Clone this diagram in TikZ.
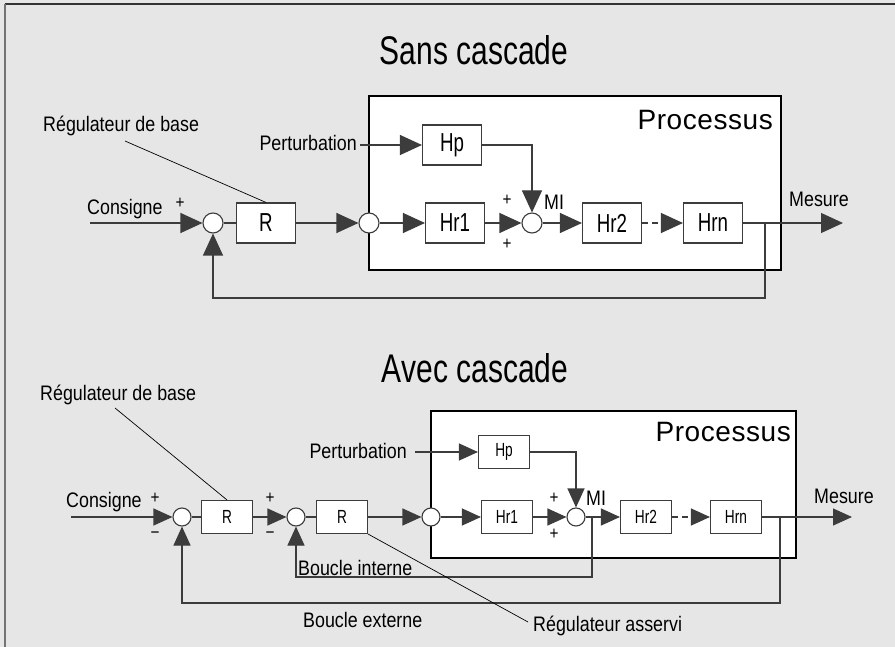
\documentclass[tikz,border=0pt]{standalone}
\usepackage{fontspec}
\setmainfont{Liberation Sans}[FakeStretch=0.85]
\newfontfamily\titlefont{Liberation Sans}[FakeStretch=0.75]
\newfontfamily\blkfont{Liberation Sans}[FakeStretch=0.72]
\newfontfamily\procfont{Liberation Sans}[LetterSpace=2]
\usepackage{tikz}
\usetikzlibrary{arrows.meta,positioning,calc}
\definecolor{cBg}{HTML}{E6E6E6}
\definecolor{cLine}{HTML}{3C3C3C}
\tikzset{
  blk/.style={draw=cLine, line width=1.1pt, fill=white, minimum width=59pt,
              minimum height=40pt, inner sep=0pt, font=\blkfont\fontsize{26}{28}\selectfont},
  sblk/.style={blk, minimum width=51pt, minimum height=33pt, font=\blkfont\fontsize{19}{21}\selectfont},
  sumnode/.style={circle, draw=cLine, line width=1.1pt, fill=white, minimum size=20pt, inner sep=0pt},
  ssum/.style={sumnode, minimum size=18pt},
  lbl/.style={inner sep=0pt, font=\fontsize{21}{24}\selectfont},
  sig/.style={inner sep=0pt, font=\fontsize{18}{20}\selectfont},
  ttl/.style={inner sep=0pt, font=\titlefont\fontsize{40}{44}\selectfont},
  proctxt/.style={inner sep=0pt, font=\procfont\fontsize{28}{32}\selectfont},
  wire/.style={line width=1.1pt, draw=cLine},
  flow/.style={wire, -{Triangle[length=22pt,width=20pt]}},
  sflow/.style={wire, -{Triangle[length=19pt,width=17pt]}},
  lead/.style={line width=0.7pt, draw=black},
  frame/.style={draw=black, line width=1.1pt, fill=white},
}

\begin{document}
\begin{tikzpicture}[x=1pt,y=-1pt]
  \useasboundingbox (0,0) rectangle (895,647);
  \fill[cBg] (0,0) rectangle (895,647);
  \draw[black!80, line width=1.2pt] (5,4) -- (895,4);
  \draw[black!55, line width=2pt] (5,4) -- (5,647);

  % --- sans cascade
  \node[ttl, anchor=base] (t1) at (474,65) {Sans cascade};
  \draw[frame] (369,96) rectangle (781,270);
  \node[proctxt, anchor=base east] (pr1) at (773,130) {Processus};
  \node[sumnode] (s11) at (213,223) {};
  \node[blk] (r1) at (266,223) {R};
  \node[sumnode] (s12) at (369,223) {};
  \node[blk] (hp1) at (452,145) {Hp};
  \node[blk] (ha1) at (455,223) {Hr1};
  \node[sumnode] (s13) at (532,223) {};
  \node[blk] (hb1) at (612,223) {Hr2};
  \node[blk] (hn1) at (713,223) {Hrn};
  \node[lbl, anchor=base west] (cons1) at (87,215) {Consigne};
  \node[lbl, anchor=base west] (reg1) at (43,132) {Régulateur de base};
  \node[lbl, anchor=base east] (pert1) at (357,151) {Perturbation};
  \node[lbl, anchor=base west] (mes1) at (789,207) {Mesure};
  \node[lbl, anchor=base west] (mi1) at (544,210) {MI};
  \node[sig] (p11) at (180,203) {+};
  \node[sig] (p12) at (507,200) {+};
  \node[sig] (p13) at (507,244) {+};
  \coordinate (in1) at (90,223);
  \coordinate (out1) at (843,223);
  \coordinate (br1) at (765,223);
  \coordinate (fb1) at (765,298);
  \coordinate (rl1) at (125,141);

  \draw[flow] (in1) -- (s11);
  \draw[wire] (s11) -- (r1);
  \draw[flow] (r1) -- (s12);
  \draw[flow] (s12) -- (ha1);
  \draw[flow] (ha1) -- (s13);
  \draw[flow] (s13) -- (hb1);
  \draw[flow, dash pattern=on 6pt off 4pt] (hb1) -- (hn1);
  \draw[flow] (hn1) -- (out1);
  \draw[flow] ([xshift=3pt]pert1.east |- hp1.west) -- (hp1.west);
  \draw[flow] (hp1.east) -| (s13.north);
  \draw[flow] (br1) -- (fb1) -| (s11.south);
  \draw[lead] (rl1) -- (r1.north);

  % --- avec cascade
  \node[ttl, anchor=base] (t2) at (475,382) {Avec cascade};
  \draw[frame] (431,411) rectangle (796,558);
  \node[proctxt, anchor=base east] (pr2) at (791,441) {Processus};
  \node[ssum] (s21) at (182,517) {};
  \node[sblk] (r21) at (227,517) {R};
  \node[ssum] (s22) at (296,517) {};
  \node[sblk] (r22) at (342,517) {R};
  \node[ssum] (s23) at (431,517) {};
  \node[sblk] (hp2) at (504,452) {Hp};
  \node[sblk] (ha2) at (507,517) {Hr1};
  \node[ssum] (s24) at (576,517) {};
  \node[sblk] (hb2) at (646,517) {Hr2};
  \node[sblk] (hn2) at (736,517) {Hrn};
  \node[lbl, anchor=base west] (cons2) at (66,507) {Consigne};
  \node[lbl, anchor=base west] (reg2) at (40,400) {Régulateur de base};
  \node[lbl, anchor=base east] (pert2) at (407,458) {Perturbation};
  \node[lbl, anchor=base west] (mes2) at (814,503) {Mesure};
  \node[lbl, anchor=base west] (mi2) at (586,505) {MI};
  \node[lbl, anchor=base west] (bi2) at (298,575) {Boucle interne};
  \node[lbl, anchor=base west] (be2) at (303,627) {Boucle externe};
  \node[lbl, anchor=base west] (ra2) at (533,631) {Régulateur asservi};
  \node[sig] (p21) at (155,498) {+};
  \node[sig] (m21) at (155,535) {−};
  \node[sig] (p22) at (270,498) {+};
  \node[sig] (m22) at (270,535) {−};
  \node[sig] (p23) at (554,498) {+};
  \node[sig] (p24) at (554,534) {+};
  \coordinate (in2) at (71,517);
  \coordinate (out2) at (852,517);
  \coordinate (bri) at (592,517);
  \coordinate (fbi) at (592,577);
  \coordinate (bro) at (780,517);
  \coordinate (fbo) at (780,603);
  \coordinate (rl2) at (115,408);
  \coordinate (rr2) at (528,622);

  \draw[sflow] (in2) -- (s21);
  \draw[wire] (s21) -- (r21);
  \draw[sflow] (r21) -- (s22);
  \draw[wire] (s22) -- (r22);
  \draw[sflow] (r22) -- (s23);
  \draw[sflow] (s23) -- (ha2);
  \draw[sflow] (ha2) -- (s24);
  \draw[sflow] (s24) -- (hb2);
  \draw[sflow, dash pattern=on 6pt off 4pt] (hb2) -- (hn2);
  \draw[sflow] (hn2) -- (out2);
  \draw[sflow] ([xshift=8pt]pert2.east |- hp2.west) -- (hp2.west);
  \draw[sflow] (hp2.east) -| (s24.north);
  \draw[sflow] (bri) -- (fbi) -| (s22.south);
  \draw[sflow] (bro) -- (fbo) -| (s21.south);
  \draw[lead] (rl2) -- (r21.north);
  \draw[lead] (r22.south east) -- (rr2);
\end{tikzpicture}
\end{document}
